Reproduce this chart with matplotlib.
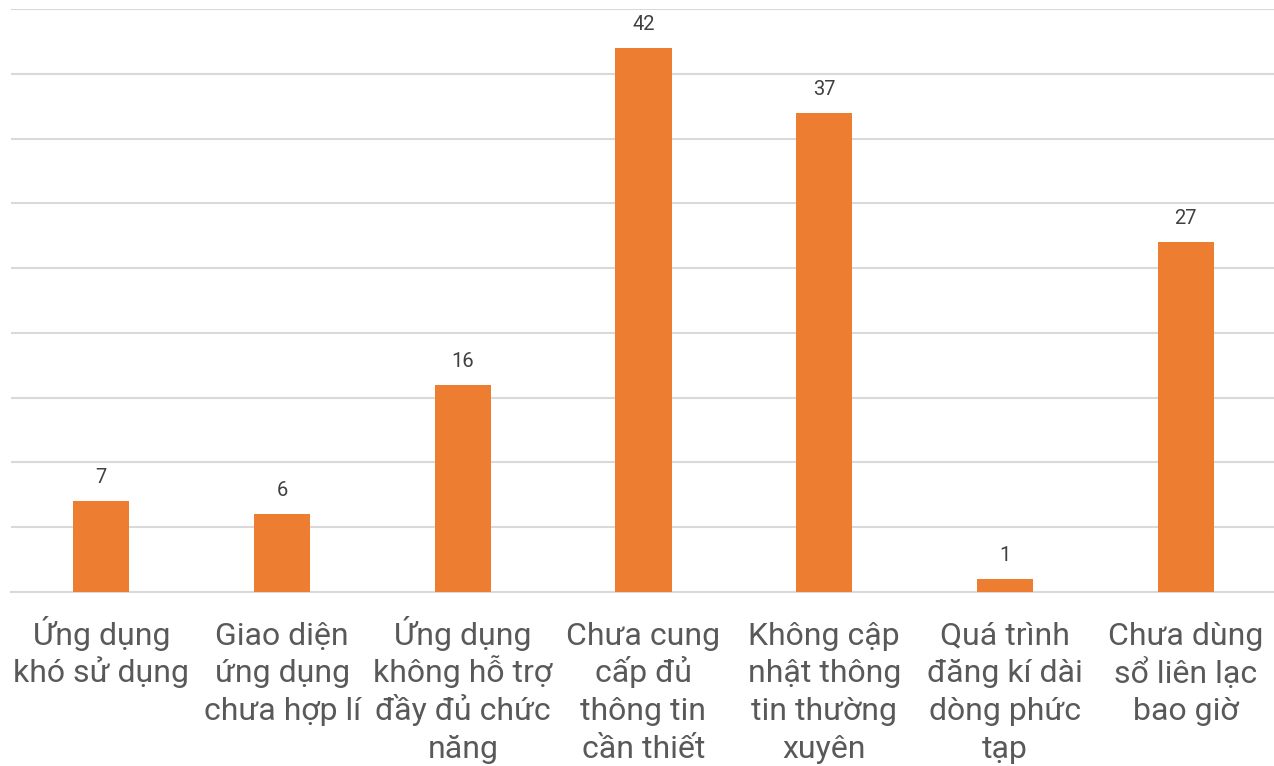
import matplotlib.pyplot as plt

# data
categories = [
    "Ứng dụng\nkhó sử dụng",
    "Giao diện\nứng dụng\nchưa hợp lí",
    "Ứng dụng\nkhông hỗ trợ\nđầy đủ chức\nnăng",
    "Chưa cung\ncấp đủ\nthông tin\ncần thiết",
    "Không cập\nnhật thông\ntin thường\nxuyên",
    "Quá trình\nđăng kí dài\ndòng phức\ntạp",
    "Chưa dùng\nsổ liên lạc\nbao giờ",
]
counts = [7, 6, 16, 42, 37, 1, 27]

plt.rcParams['font.family'] = ['Roboto', 'DejaVu Sans']

fig = plt.figure(figsize=(12.74, 7.66), dpi=100)
ax = fig.add_axes([11 / 1274, 1 - 592 / 766, 1 - 9 / 1274, (592 - 9) / 766])

x = range(len(categories))
bars = ax.bar(x, counts, width=0.31, color="#ED7D31", zorder=3)

for rect, v in zip(bars, counts):
    ax.annotate(str(v), (rect.get_x() + rect.get_width() / 2, v),
                xytext=(0, 10), textcoords="offset points",
                ha="center", va="bottom", fontsize=14.5, color="#404040")

ax.set_xlim(-0.5, len(categories) - 0.5)
ax.set_ylim(0, 45)
ax.set_yticks(range(0, 46, 5))
ax.yaxis.grid(True, color="#d9d9d9", linewidth=1.5, zorder=0)
ax.set_yticklabels([])
ax.tick_params(axis="y", length=0)

# category labels: one text per line so every first line sits on the same baseline
ax.set_xticks(list(x))
ax.set_xticklabels([])
ax.tick_params(axis="x", length=0)
for i, cat in enumerate(categories):
    for j, line in enumerate(cat.split("\n")):
        ax.annotate(line, (i, 0), xycoords=("data", "axes fraction"),
                    xytext=(0, -53 - 37.5 * j), textcoords="offset pixels",
                    ha="center", va="baseline", fontsize=23, color="#595959")

for s in ["top", "right", "left"]:
    ax.spines[s].set_visible(False)
ax.spines["bottom"].set_color("#d9d9d9")
ax.spines["bottom"].set_linewidth(1.5)

fig.savefig("out.png", dpi=100)
